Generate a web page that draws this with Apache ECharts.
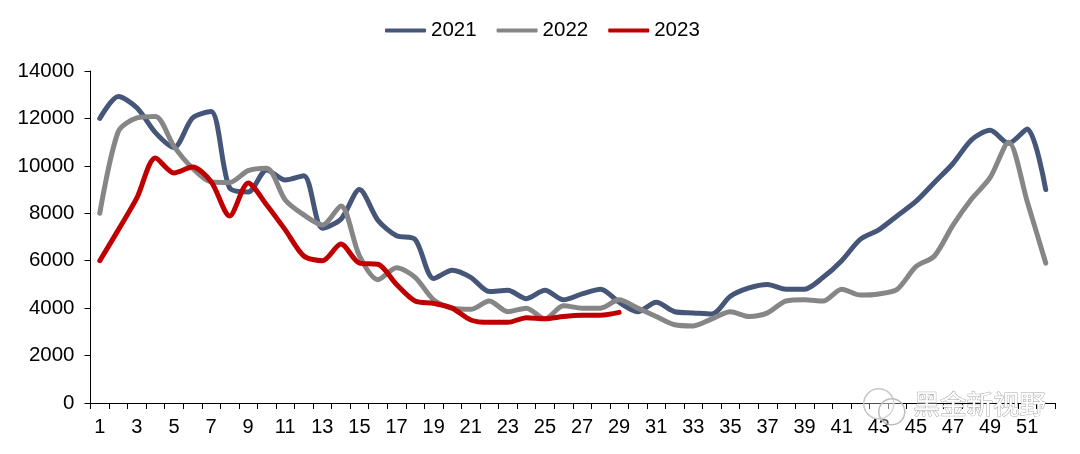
<!DOCTYPE html>
<html><head><meta charset="utf-8"><style>html,body{margin:0;padding:0;background:#fff}#c{width:1080px;height:454px}</style>
<script src="https://cdn.jsdelivr.net/npm/echarts@6/dist/echarts.min.js"></script></head><body><div id="c"></div>
<script>
const weeks = Array.from({length:52},(_, i)=>String(i+1));
const yTicks = [0,2000,4000,6000,8000,10000,12000,14000];
const s2021 = [12000,12920,12450,11400,10770,12020,12290,9070,8900,9830,9400,9580,7370,7750,9000,7700,7050,6900,5250,5600,5300,4700,4750,4400,4750,4350,4600,4800,4250,3850,4250,3850,3800,3750,4500,4850,5000,4800,4800,5300,6000,6900,7300,7900,8500,9300,10100,11100,11500,10950,11550,9000];
const s2022 = [8000,11450,12020,12080,10820,9900,9320,9300,9800,9900,8560,7930,7510,8310,6200,5200,5700,5300,4350,4000,3950,4300,3850,4000,3550,4100,4000,4000,4350,4000,3650,3300,3250,3550,3850,3650,3800,4300,4350,4300,4800,4550,4600,4800,5750,6200,7500,8600,9500,11000,8500,5900];
const s2023 = [6000,7300,8650,10330,9700,9950,9340,7890,9280,8350,7300,6200,6000,6700,5900,5850,5000,4300,4200,4000,3500,3400,3400,3600,3550,3650,3700,3700,3820];
const names = ['2021','2022','2023'];
const colors = ['#465678','#868686','#C00000'];
const font = '"Liberation Sans", Arial, sans-serif';
const mk = (n,d,c,z)=>({name:n,type:'line',data:d,smooth:0.28,showSymbol:false,symbol:'none',z:z,
  lineStyle:{color:c,width:5,cap:'round',join:'round'},itemStyle:{color:c}});
const chart = echarts.init(document.getElementById('c'),null,{renderer:'canvas'});
chart.setOption({
  animation:false,
  backgroundColor:'#fff',
  legend:{top:20,left:385,padding:0,itemWidth:41,itemHeight:4,itemGap:20,icon:'roundRect',
    textStyle:{fontFamily:font,fontSize:20.5,color:'#000'},data:names},
  grid:{left:90.5,right:25,top:71,bottom:51,containLabel:false},
  xAxis:{type:'category',data:weeks,boundaryGap:true,
    axisLine:{lineStyle:{color:'#000',width:1}},
    axisTick:{show:true,alignWithLabel:false,interval:0,length:6,inside:false,lineStyle:{color:'#000'}},
    axisLabel:{interval:1,fontFamily:font,fontSize:20,color:'#000',margin:14},splitLine:{show:false}},
  yAxis:{type:'value',min:yTicks[0],max:yTicks[yTicks.length-1],interval:2000,
    axisLine:{show:true,lineStyle:{color:'#000',width:1}},
    axisTick:{show:true,length:6,lineStyle:{color:'#000'}},
    axisLabel:{fontFamily:font,fontSize:20.5,color:'#000',margin:16,formatter:v=>String(v)},splitLine:{show:false}},
  series:[mk(names[0],s2021,colors[0],2),mk(names[1],s2022,colors[1],3),mk(names[2],s2023,colors[2],4)],
  graphic:[
    {type:'circle',left:863,top:388,shape:{r:15},style:{fill:'rgba(255,255,255,0.3)',stroke:'#c8c8c8',lineWidth:1.5},z:20},
    {type:'circle',left:878,top:398,shape:{r:13},style:{fill:'rgba(255,255,255,0.3)',stroke:'#bdbdbd',lineWidth:1.5},z:21},
    {type:'text',left:913,top:390,z:22,style:{text:'黑金新视野',fontFamily:'"Noto Sans CJK SC"',fontSize:26.5,fill:'#ffffff',stroke:'#a8a8a8',lineWidth:1}}
  ]
});
</script></body></html>
